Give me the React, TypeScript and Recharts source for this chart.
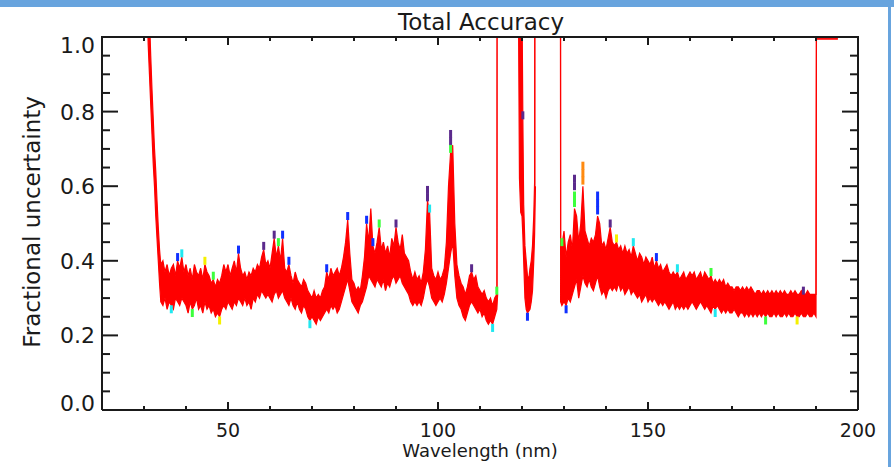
import React from "react";
import { ComposedChart, Area, Scatter, XAxis, YAxis } from "recharts";

const FONT = "'DejaVu Sans', sans-serif";
const INK = "#1a1a1a";
const RED = "#ff0000";

const X_TICKS = [20, 30, 40, 50, 60, 70, 80, 90, 100, 110, 120, 130, 140, 150, 160, 170, 180, 190, 200];
const Y_TICKS = [0, 0.05, 0.1, 0.15, 0.2, 0.25, 0.3, 0.35, 0.4, 0.45, 0.5, 0.55, 0.6, 0.65, 0.7, 0.75, 0.8, 0.85, 0.9, 0.95, 1];
const X_DOMAIN = [20, 200];
const Y_DOMAIN = [0, 1];

// first stretch: steep fall at short wavelengths, then the noisy band up to the 114 nm edge
const SEG1_WAVELENGTH = [
  30.9, 31.0, 31.3, 31.6, 31.9, 32.2, 32.5, 32.8, 33.1, 33.4, 33.7,
  34.0, 34.5, 35.0, 35.5, 36.0, 36.5, 37.0, 37.5, 38.0, 38.5,
  39.0, 39.5, 40.0, 40.5, 41.0, 41.5, 42.0, 42.5, 43.0, 43.5,
  44.0, 44.5, 45.0, 45.5, 46.0, 46.5, 47.0, 47.5, 48.0, 48.5,
  49.0, 49.5, 50.0, 50.5, 51.0, 51.5, 52.0, 52.5, 53.0, 53.5,
  54.0, 54.5, 55.0, 55.5, 56.0, 56.5, 57.0, 57.5, 58.0, 58.5,
  59.0, 59.5, 60.0, 60.5, 61.0, 61.5, 62.0, 62.5, 63.0, 63.5,
  64.0, 64.5, 65.0, 65.5, 66.0, 66.5, 67.0, 67.5, 68.0, 68.5,
  69.0, 69.5, 70.0, 70.5, 71.0, 71.5, 72.0, 72.5, 73.0, 73.5,
  74.0, 74.5, 75.0, 75.5, 76.0, 76.5, 77.0, 77.5, 78.0, 78.5,
  79.0, 79.5, 80.0, 80.5, 81.0, 81.5, 82.0, 82.5, 83.0, 83.5,
  84.0, 84.5, 85.0, 85.5, 86.0, 86.5, 87.0, 87.5, 88.0, 88.5,
  89.0, 89.5, 90.0, 90.5, 91.0, 91.5, 92.0, 92.5, 93.0, 93.5,
  94.0, 94.5, 95.0, 95.5, 96.0, 96.5, 97.0, 97.5, 98.0, 98.5,
  99.0, 99.5, 100.0, 100.5, 101.0, 101.5, 102.0, 102.5, 103.0, 103.5,
  104.0, 104.5, 105.0, 105.5, 106.0, 106.5, 107.0, 107.5, 108.0, 108.5,
  109.0, 109.5, 110.0, 110.5, 111.0, 111.5, 112.0, 112.5, 113.0, 113.5,
  114.0, 114.2,
];
const SEG1_LOWER = [
  1.02, 0.98, 0.9, 0.82, 0.74, 0.66, 0.6, 0.52, 0.46, 0.4, 0.34,
  0.29, 0.28, 0.3, 0.27, 0.29, 0.28, 0.27, 0.3, 0.29, 0.28,
  0.3, 0.29, 0.28, 0.26, 0.29, 0.27, 0.28, 0.3, 0.27, 0.28,
  0.26, 0.29, 0.27, 0.28, 0.26, 0.27, 0.25, 0.26, 0.25, 0.27,
  0.28, 0.27, 0.29, 0.28, 0.27, 0.29, 0.28, 0.3, 0.29, 0.28,
  0.3, 0.28, 0.29, 0.27, 0.3, 0.29, 0.31, 0.3, 0.32, 0.31,
  0.3, 0.31, 0.3, 0.29, 0.31, 0.32, 0.3, 0.31, 0.32, 0.3,
  0.29, 0.28, 0.3, 0.28, 0.27, 0.29, 0.27, 0.26, 0.28, 0.27,
  0.25, 0.24, 0.25, 0.24, 0.23, 0.25, 0.24, 0.25, 0.26, 0.27,
  0.26, 0.28, 0.27, 0.28, 0.26, 0.27, 0.29, 0.31, 0.33, 0.35,
  0.32, 0.29, 0.28, 0.27, 0.26, 0.28, 0.29, 0.31, 0.33, 0.36,
  0.35, 0.34, 0.33, 0.35, 0.34, 0.33, 0.35, 0.32, 0.34, 0.33,
  0.35, 0.36, 0.34, 0.35, 0.36, 0.34, 0.33, 0.32, 0.31, 0.29,
  0.28, 0.29, 0.28, 0.29, 0.28, 0.3, 0.33, 0.35, 0.33, 0.3,
  0.29, 0.28, 0.29, 0.3, 0.29, 0.31, 0.34, 0.38, 0.42, 0.45,
  0.36, 0.3, 0.28, 0.27, 0.25, 0.24, 0.26, 0.28, 0.29, 0.28,
  0.27, 0.26, 0.27, 0.25, 0.26, 0.24, 0.23, 0.24, 0.23, 0.25,
  0.27, 0.31,
];
const SEG1_UPPER = [
  3.0, 1.3, 1.05, 0.95, 0.86, 0.78, 0.7, 0.64, 0.56, 0.49, 0.43,
  0.39, 0.4, 0.37, 0.39, 0.36, 0.38, 0.39, 0.36, 0.4, 0.38,
  0.41, 0.37, 0.39, 0.36, 0.38, 0.35, 0.39, 0.37, 0.36, 0.38,
  0.35, 0.39, 0.37, 0.36, 0.34, 0.35, 0.33, 0.35, 0.34, 0.36,
  0.39, 0.37, 0.39, 0.36, 0.38, 0.4, 0.37, 0.42, 0.38, 0.36,
  0.37, 0.35, 0.37, 0.36, 0.38, 0.37, 0.39, 0.38, 0.41, 0.43,
  0.39, 0.4, 0.38, 0.42, 0.46, 0.41, 0.44, 0.4, 0.46, 0.38,
  0.37, 0.39, 0.36, 0.34, 0.37, 0.35, 0.34, 0.33, 0.35, 0.34,
  0.32, 0.31, 0.3, 0.32, 0.3, 0.31, 0.3, 0.32, 0.33, 0.37,
  0.35, 0.38, 0.36, 0.37, 0.38, 0.36, 0.38, 0.41, 0.45, 0.51,
  0.42, 0.35, 0.34, 0.32, 0.33, 0.32, 0.36, 0.41, 0.5, 0.45,
  0.54, 0.44, 0.42, 0.45, 0.49, 0.43, 0.45, 0.42, 0.44, 0.41,
  0.46, 0.44, 0.49, 0.45, 0.43, 0.47, 0.42, 0.41, 0.4, 0.37,
  0.35, 0.37, 0.35, 0.36, 0.34, 0.37, 0.43, 0.56, 0.53, 0.38,
  0.36, 0.35, 0.37, 0.35, 0.36, 0.38, 0.45, 0.6, 0.69, 0.71,
  0.5, 0.39, 0.36, 0.34, 0.33, 0.31, 0.33, 0.36, 0.37, 0.35,
  0.36, 0.33, 0.32, 0.31, 0.32, 0.3, 0.29, 0.3, 0.28, 0.3,
  0.31, 5,
];

// narrow window between the two saturated gaps
const SEG2_WAVELENGTH = [119.0, 119.2, 119.4, 119.7, 120.0, 120.2, 120.4, 120.7, 121.0, 121.3, 121.6, 121.9, 122.2, 122.5, 122.8, 123.0, 123.2];
const SEG2_LOWER = [5, 1.0, 0.62, 0.53, 0.52, 0.47, 0.4, 0.3, 0.27, 0.26, 0.265, 0.27, 0.29, 0.32, 0.4, 0.47, 0.6];
const SEG2_UPPER = [5, 5, 5, 5, 1.1, 0.78, 0.55, 0.44, 0.4, 0.36, 0.35, 0.38, 0.4, 0.44, 0.52, 0.61, 5];

// long-wavelength stretch, ends saturated at 1.0
const SEG3_WAVELENGTH = [
  129.0, 129.2, 129.5,
  130.0, 130.5, 131.0, 131.5, 132.0, 132.5, 133.0, 133.5, 134.0, 134.5,
  135.0, 135.5, 136.0, 136.5, 137.0, 137.5, 138.0, 138.5, 139.0, 139.5,
  140.0, 140.5, 141.0, 141.5, 142.0, 142.5, 143.0, 143.5, 144.0, 144.5,
  145.0, 145.5, 146.0, 146.5, 147.0, 147.5, 148.0, 148.5, 149.0, 149.5,
  150.0, 150.5, 151.0, 151.5, 152.0, 152.5, 153.0, 153.5, 154.0, 154.5,
  155.0, 155.5, 156.0, 156.5, 157.0, 157.5, 158.0, 158.5, 159.0, 159.5,
  160.0, 160.5, 161.0, 161.5, 162.0, 162.5, 163.0, 163.5, 164.0, 164.5,
  165.0, 165.5, 166.0, 166.5, 167.0, 167.5, 168.0, 168.5, 169.0, 169.5,
  170.0, 170.5, 171.0, 171.5, 172.0, 172.5, 173.0, 173.5, 174.0, 174.5,
  175.0, 175.5, 176.0, 176.5, 177.0, 177.5, 178.0, 178.5, 179.0, 179.5,
  180.0, 180.5, 181.0, 181.5, 182.0, 182.5, 183.0, 183.5, 184.0, 184.5,
  185.0, 185.5, 186.0, 186.5, 187.0, 187.5, 188.0, 188.5, 189.0, 189.5,
  190.0, 190.1, 195.2,
];
const SEG3_LOWER = [
  5, 0.29, 0.28,
  0.29, 0.28, 0.3, 0.29, 0.31, 0.33, 0.35, 0.3, 0.33, 0.36,
  0.34, 0.33, 0.35, 0.33, 0.32, 0.34, 0.36, 0.33, 0.31, 0.32,
  0.3, 0.32, 0.33, 0.32, 0.33, 0.32, 0.34, 0.32, 0.33, 0.31,
  0.32, 0.33, 0.31, 0.32, 0.31, 0.3, 0.31, 0.29, 0.3, 0.31,
  0.29, 0.3, 0.29, 0.3, 0.29, 0.28, 0.29, 0.28, 0.29, 0.28,
  0.27, 0.28, 0.29, 0.27, 0.28, 0.27, 0.28, 0.27, 0.28, 0.27,
  0.28, 0.29, 0.28, 0.27, 0.28, 0.29, 0.28, 0.27, 0.28, 0.27,
  0.26, 0.28, 0.27, 0.28, 0.27, 0.26, 0.27, 0.26, 0.27, 0.26,
  0.26, 0.27, 0.26, 0.25, 0.26, 0.26, 0.25, 0.26, 0.25, 0.26,
  0.25, 0.26, 0.25, 0.26, 0.25, 0.26, 0.25, 0.26, 0.25, 0.25,
  0.26, 0.25, 0.26, 0.25, 0.25, 0.26, 0.25, 0.26, 0.25, 0.25,
  0.26, 0.25, 0.25, 0.26, 0.25, 0.25, 0.26, 0.25, 0.25, 0.26,
  0.25, 0.995, 0.995,
];
const SEG3_UPPER = [
  5, 0.45, 0.44,
  0.48, 0.41, 0.45, 0.47, 0.43, 0.54, 0.52, 0.45, 0.5, 0.6,
  0.48, 0.46, 0.44, 0.46, 0.45, 0.47, 0.52, 0.5, 0.44, 0.45,
  0.43, 0.46, 0.49, 0.45, 0.44, 0.45, 0.43, 0.44, 0.42, 0.44,
  0.42, 0.43, 0.41, 0.44, 0.42, 0.4, 0.42, 0.41, 0.39, 0.41,
  0.4, 0.39, 0.41, 0.38, 0.4, 0.38, 0.39, 0.37, 0.38, 0.39,
  0.37, 0.36, 0.37, 0.36, 0.37, 0.35, 0.36, 0.37, 0.35, 0.36,
  0.37, 0.36, 0.37, 0.35, 0.36, 0.37, 0.35, 0.37, 0.36, 0.35,
  0.36, 0.34, 0.35, 0.34, 0.35, 0.34, 0.35, 0.33, 0.34, 0.33,
  0.33, 0.32, 0.33, 0.33, 0.32, 0.33, 0.32, 0.33, 0.32, 0.33,
  0.32, 0.31, 0.32, 0.32, 0.31, 0.32, 0.31, 0.32, 0.31, 0.32,
  0.31, 0.32, 0.31, 0.32, 0.31, 0.32, 0.31, 0.31, 0.32, 0.31,
  0.32, 0.31, 0.31, 0.32, 0.31, 0.31, 0.32, 0.31, 0.31, 0.31,
  0.31, 0.995, 0.995,
];

// the other (overplotted) realisations only show where they poke out of the red one
const TIPS_PURPLE = [[58.5, 0.44], [61.0, 0.47], [90.0, 0.5], [97.5, 0.57], [97.5, 0.59], [103.0, 0.72], [103.0, 0.74], [108.0, 0.38], [120.2, 0.79], [132.5, 0.6], [132.5, 0.62], [141.0, 0.5], [187.0, 0.32]];
const TIPS_BLUE = [[38.0, 0.41], [52.5, 0.43], [63.0, 0.47], [64.5, 0.4], [73.5, 0.38], [78.5, 0.52], [83.0, 0.51], [84.5, 0.45], [138.0, 0.535], [138.0, 0.555], [138.0, 0.575], [152.0, 0.41], [121.3, 0.25], [130.5, 0.27]];
const TIPS_GREEN = [[46.5, 0.36], [62.0, 0.45], [86.0, 0.5], [103.0, 0.7], [114.0, 0.32], [129.5, 0.45], [132.5, 0.555], [132.5, 0.575], [165.0, 0.37], [178.0, 0.24], [41.5, 0.26]];
const TIPS_CYAN = [[39.0, 0.42], [98.0, 0.54], [146.5, 0.45], [157.0, 0.38], [36.5, 0.27], [69.5, 0.23], [113.0, 0.22], [166.0, 0.26]];
const TIPS_YELLOW = [[44.5, 0.4], [142.5, 0.46], [185.5, 0.24], [48.0, 0.24]];
const TIPS_ORANGE = [[134.5, 0.615], [134.5, 0.635], [134.5, 0.655]];

const band = (w: number[], lo: number[], hi: number[]) => w.map((x, i) => ({ w: x, band: [lo[i], hi[i]] }));
const tips = (pts: number[][]) => pts.map(([w, v]) => ({ w, v }));

const isMajorX = (v: number) => v % 50 === 0;
const isMajorY = (v: number) => Math.abs(v * 5 - Math.round(v * 5)) < 1e-6;

// plot box; the chart margins and axis sizes are derived from it
const W = 894;
const H = 467;
const PLOT = { left: 102, top: 37, width: 756, height: 373 };

function BottomTick({ x, y, payload }: any) {
  const major = isMajorX(payload.value);
  return (
    <g>
      <line x1={x} x2={x} y1={y} y2={y - (major ? 8 : 4)} stroke={INK} strokeWidth={2} />
      {major && (
        <text x={x} y={y + 27} textAnchor="middle" fontFamily={FONT} fontSize={19} fill={INK}>
          {payload.value}
        </text>
      )}
    </g>
  );
}

function LeftTick({ x, y, payload }: any) {
  const v = payload.value;
  const major = isMajorY(v);
  const shift = v > 0.99 ? 8 : v < 0.01 ? -7 : 0;
  return (
    <g>
      <line x1={x} x2={x + (major ? 16 : 8)} y1={y} y2={y} stroke={INK} strokeWidth={2} />
      {major && (
        <text x={x - 7} y={y + shift + 8} textAnchor="end" fontFamily={FONT} fontSize={22} fill={INK}>
          {v.toFixed(1)}
        </text>
      )}
    </g>
  );
}

// closing top/right edges of the IDL box with their inward ticks
function BoxEdges() {
  const sx = (w: number) => PLOT.left + ((w - X_DOMAIN[0]) / (X_DOMAIN[1] - X_DOMAIN[0])) * PLOT.width;
  const sy = (v: number) => PLOT.top + ((Y_DOMAIN[1] - v) / (Y_DOMAIN[1] - Y_DOMAIN[0])) * PLOT.height;
  const right = PLOT.left + PLOT.width;
  const top = PLOT.top;
  return (
    <g>
      <line x1={PLOT.left - 1} x2={right + 1} y1={top} y2={top} stroke={INK} strokeWidth={2} />
      <line x1={right} x2={right} y1={top} y2={top + PLOT.height} stroke={INK} strokeWidth={2} />
      {X_TICKS.map((t) => (
        <line key={`t${t}`} x1={sx(t)} x2={sx(t)} y1={top} y2={top + (isMajorX(t) ? 8 : 4)} stroke={INK} strokeWidth={2} />
      ))}
      {Y_TICKS.map((t) => (
        <line key={`r${t}`} x1={right} x2={right - (isMajorY(t) ? 16 : 8)} y1={sy(t)} y2={sy(t)} stroke={INK} strokeWidth={2} />
      ))}
    </g>
  );
}

const tipShape = (color: string) => (p: any) => (
  <rect x={p.cx - 1.5} y={p.cy - 4} width={3} height={8} fill={color} />
);

const axisLine = { stroke: INK, strokeWidth: 2 };
const SVG_POS = { position: "absolute" as const, left: 0, top: 0 };

export default function App() {
  const tipSets: [number[][], string][] = [
    [TIPS_PURPLE, "#5b2a8c"],
    [TIPS_BLUE, "#1030ff"],
    [TIPS_GREEN, "#3cff3c"],
    [TIPS_CYAN, "#20e8f0"],
    [TIPS_YELLOW, "#f5f000"],
    [TIPS_ORANGE, "#ff8a10"],
  ];
  const areaStyle = {
    dataKey: "band",
    type: "linear" as const,
    stroke: RED,
    strokeWidth: 1.2,
    fill: RED,
    fillOpacity: 1,
    dot: false,
    activeDot: false,
    isAnimationActive: false,
  };
  return (
    <div style={{ position: "absolute", left: 0, top: 0, width: W, height: H, background: "#fff", overflow: "hidden" }}>
      <ComposedChart
        width={W}
        height={H}
        margin={{ top: PLOT.top, right: W - PLOT.left - PLOT.width, bottom: 0, left: 0 }}
        style={SVG_POS}
      >
        <XAxis
          type="number"
          dataKey="w"
          domain={X_DOMAIN}
          allowDataOverflow
          ticks={X_TICKS}
          interval={0}
          height={H - PLOT.top - PLOT.height}
          tickSize={0}
          tickMargin={0}
          tickLine={false}
          axisLine={axisLine}
          tick={(p: any) => <BottomTick {...p} />}
        />
        <YAxis
          type="number"
          domain={Y_DOMAIN}
          allowDataOverflow
          ticks={Y_TICKS}
          interval={0}
          width={PLOT.left}
          tickSize={0}
          tickMargin={0}
          tickLine={false}
          axisLine={axisLine}
          tick={(p: any) => <LeftTick {...p} />}
        />
        {tipSets.map(([pts, color], i) => (
          <Scatter
            key={i}
            data={tips(pts)}
            dataKey="v"
            fill={color}
            shape={tipShape(color)}
            isAnimationActive={false}
          />
        ))}
        <Area data={band(SEG1_WAVELENGTH, SEG1_LOWER, SEG1_UPPER)} {...areaStyle} />
        <Area data={band(SEG2_WAVELENGTH, SEG2_LOWER, SEG2_UPPER)} {...areaStyle} />
        <Area data={band(SEG3_WAVELENGTH, SEG3_LOWER, SEG3_UPPER)} {...areaStyle} />
      </ComposedChart>
      <svg width={W} height={H} style={{ ...SVG_POS, pointerEvents: "none" }}>
        <BoxEdges />
        <text x={481} y={30} textAnchor="middle" fontFamily={FONT} fontSize={23} fill={INK}>
          Total Accuracy
        </text>
        <text x={480} y={457} textAnchor="middle" fontFamily={FONT} fontSize={18} fill={INK}>
          Wavelength (nm)
        </text>
        <text
          x={0}
          y={0}
          transform="translate(40 222) rotate(-90)"
          textAnchor="middle"
          fontFamily={FONT}
          fontSize={23}
          fill={INK}
        >
          Fractional uncertainty
        </text>
      </svg>
      <div style={{ position: "absolute", left: 0, top: 0, width: W, height: 7, background: "#68a4de" }} />
      <div style={{ position: "absolute", left: 888, top: 0, width: 3, height: H, background: "#68a4de" }} />
    </div>
  );
}
